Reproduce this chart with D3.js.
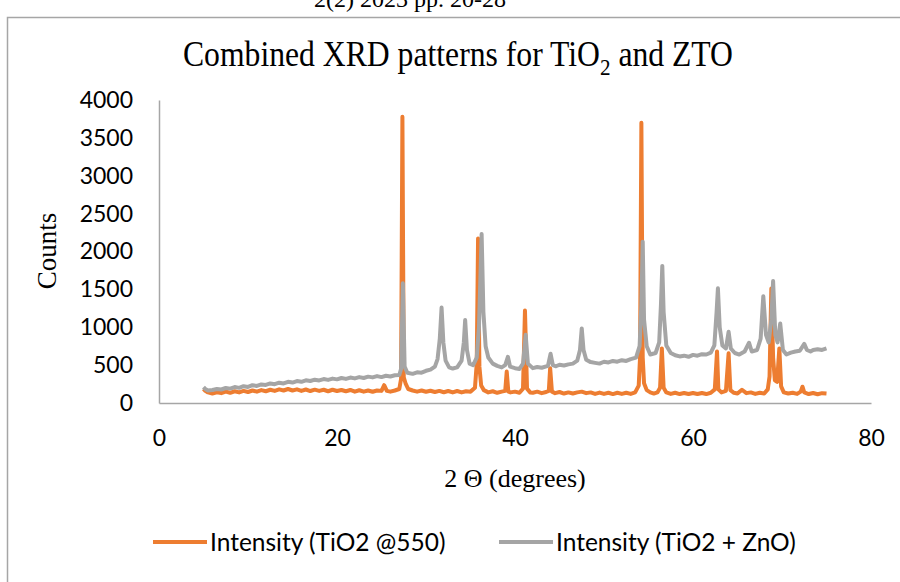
<!DOCTYPE html>
<html lang="en">

<head>
    <meta charset="UTF-8">
    <title>Combined XRD patterns</title>
    <script src="https://cdnjs.cloudflare.com/ajax/libs/d3/7.8.5/d3.min.js"></script>
    <style>
        body { margin: 0; background: #fff; }
        svg { display: block; }
    </style>
</head>

<body>
    <script>
        const seriesNames = ['Intensity (TiO2 @550)', 'Intensity (TiO2 + ZnO)'];
        const seriesColors = ['#ED7D31', '#A5A5A5'];
        const xTicks = [0, 20, 40, 60, 80];
        const yTicks = [0, 500, 1000, 1500, 2000, 2500, 3000, 3500, 4000];

        // [2 theta, counts]
        const tio2Data = [
            [5.0, 185], [5.2, 160], [5.5, 140], [6.0, 125], [6.5, 140], [7.0, 130], [7.5, 150], [8.0, 135],
            [8.5, 155], [9.0, 140], [9.5, 160], [10.0, 145], [10.5, 165], [11.0, 150], [11.5, 170], [12.0, 155],
            [12.5, 175], [13.0, 160], [13.5, 180], [14.0, 165], [14.5, 185], [15.0, 165], [15.5, 180], [16.0, 160],
            [16.5, 178], [17.0, 158], [17.5, 176], [18.0, 160], [18.5, 175], [19.0, 155], [19.5, 175], [20.0, 158],
            [20.5, 172], [21.0, 155], [21.5, 172], [22.0, 150], [22.5, 168], [23.0, 150], [23.5, 165], [24.0, 148],
            [24.5, 165], [25.0, 160], [25.3, 235], [25.6, 160], [26.0, 150], [26.5, 165], [27.0, 185], [27.2, 320],
            [27.35, 3780], [27.5, 340], [27.7, 260], [28.0, 185], [28.5, 165], [29.0, 150], [29.5, 165], [30.0, 148],
            [30.5, 162], [31.0, 145], [31.5, 160], [32.0, 142], [32.5, 158], [33.0, 140], [33.5, 158], [34.0, 140],
            [34.5, 155], [35.0, 150], [35.5, 200], [35.7, 520], [35.85, 2170], [36.0, 480], [36.2, 230], [36.5, 170],
            [37.0, 140], [37.5, 155], [38.0, 135], [38.5, 150], [38.9, 160], [39.07, 415], [39.25, 150], [39.5, 140],
            [40.0, 150], [40.5, 135], [40.9, 190], [41.12, 1220], [41.35, 190], [41.7, 140], [42.0, 135], [42.5, 150],
            [43.0, 130], [43.5, 145], [43.8, 160], [43.95, 460], [44.15, 150], [44.5, 130], [45.0, 145], [45.5, 125],
            [46.0, 140], [46.5, 125], [47.0, 140], [47.5, 150], [48.0, 130], [48.5, 140], [49.0, 120], [49.5, 138],
            [50.0, 120], [50.5, 135], [51.0, 118], [51.5, 135], [52.0, 120], [52.5, 135], [53.0, 120], [53.5, 140],
            [53.9, 230], [54.05, 600], [54.2, 3700], [54.35, 600], [54.5, 260], [54.8, 170], [55.2, 140], [55.6, 125],
            [56.0, 140], [56.3, 200], [56.5, 720], [56.7, 200], [57.0, 140], [57.5, 120], [58.0, 135], [58.5, 118],
            [59.0, 132], [59.5, 118], [60.0, 132], [60.5, 118], [61.0, 132], [61.5, 118], [62.0, 135], [62.45, 180],
            [62.7, 680], [62.85, 180], [63.2, 140], [63.7, 160], [64.0, 656], [64.2, 170], [64.6, 135], [65.0, 125],
            [65.5, 175], [66.0, 130], [66.5, 140], [67.0, 120], [67.5, 135], [68.0, 125], [68.4, 180], [68.6, 350],
            [68.8, 1510], [69.0, 600], [69.2, 300], [69.45, 280], [69.7, 720], [69.9, 220], [70.2, 140], [70.7, 125],
            [71.2, 135], [71.7, 120], [72.1, 150], [72.3, 215], [72.5, 140], [73.0, 118], [73.5, 132], [74.0, 115],
            [74.5, 130], [75.0, 125]
        ];

        const ztoData = [
            [5.0, 210], [5.2, 185], [5.5, 165], [6.0, 172], [6.5, 185], [7.0, 178], [7.5, 198], [8.0, 190],
            [8.5, 210], [9.0, 200], [9.5, 222], [10.0, 212], [10.5, 235], [11.0, 225], [11.5, 245], [12.0, 238],
            [12.5, 258], [13.0, 248], [13.5, 268], [14.0, 258], [14.5, 280], [15.0, 270], [15.5, 290], [16.0, 280],
            [16.5, 300], [17.0, 290], [17.5, 308], [18.0, 298], [18.5, 316], [19.0, 305], [19.5, 322], [20.0, 312],
            [20.5, 330], [21.0, 318], [21.5, 336], [22.0, 325], [22.5, 342], [23.0, 330], [23.5, 348], [24.0, 338],
            [24.5, 355], [25.0, 342], [25.5, 360], [26.0, 350], [26.5, 366], [27.0, 370], [27.2, 450], [27.4, 1580],
            [27.6, 480], [27.9, 400], [28.5, 385], [29.0, 405], [29.5, 400], [30.0, 425], [30.5, 440], [31.0, 480],
            [31.3, 580], [31.55, 850], [31.75, 1260], [31.95, 800], [32.2, 560], [32.6, 470], [33.0, 455], [33.5, 470],
            [34.0, 560], [34.25, 800], [34.4, 1095], [34.6, 700], [34.9, 520], [35.3, 500], [35.7, 600], [35.95, 1000],
            [36.1, 1600], [36.25, 2230], [36.45, 1200], [36.7, 750], [37.0, 600], [37.5, 520], [38.0, 490], [38.5, 470],
            [38.9, 500], [39.2, 610], [39.45, 480], [40.0, 460], [40.5, 450], [40.9, 520], [41.2, 900], [41.45, 520],
            [42.0, 460], [42.5, 475], [43.0, 465], [43.7, 490], [44.0, 650], [44.25, 500], [44.6, 485], [45.0, 505],
            [45.5, 495], [46.0, 510], [46.5, 520], [47.0, 560], [47.3, 700], [47.5, 985], [47.7, 700], [48.0, 570],
            [48.5, 540], [49.0, 530], [49.5, 520], [50.0, 545], [50.5, 535], [51.0, 555], [51.5, 545], [52.0, 565],
            [52.5, 555], [53.0, 580], [53.6, 600], [54.0, 750], [54.2, 1300], [54.35, 2130], [54.5, 1100], [54.8, 750],
            [55.2, 640], [55.8, 660], [56.2, 800], [56.4, 1300], [56.55, 1810], [56.7, 1200], [57.0, 760], [57.5, 660],
            [58.0, 630], [58.5, 615], [59.0, 625], [59.5, 610], [60.0, 635], [60.5, 625], [61.0, 645], [61.5, 640],
            [62.0, 665], [62.4, 760], [62.65, 1200], [62.8, 1515], [63.0, 1000], [63.3, 760], [63.7, 720], [64.0, 940],
            [64.25, 720], [64.7, 660], [65.2, 640], [65.8, 680], [66.3, 795], [66.6, 680], [67.2, 700], [67.6, 850],
            [67.9, 1410], [68.2, 900], [68.5, 800], [68.8, 1100], [69.0, 1610], [69.25, 900], [69.5, 800], [69.8, 1050],
            [70.1, 700], [70.5, 640], [71.0, 665], [71.5, 680], [72.0, 690], [72.5, 780], [72.8, 700], [73.2, 680],
            [73.5, 700], [74.0, 710], [74.5, 700], [75.0, 720]
        ];

        const w = 900;
        const h = 582;

        const xScale = d3.scaleLinear()
            .domain([0, 80])
            .range([159, 871]);

        const yScale = d3.scaleLinear()
            .domain([0, 4000])
            .range([403, 100]);

        const svg = d3.select('body')
            .append('svg')
            .attr('width', w)
            .attr('height', h);

        // journal header, cut off at the top edge in the original
        svg.append('text')
            .attr('x', 410)
            .attr('y', 7)
            .attr('text-anchor', 'middle')
            .style('font-family', '"Liberation Serif", serif')
            .style('font-size', '24px')
            .text('2(2) 2023 pp. 20-28');

        // chart frame
        svg.append('path')
            .attr('d', `M7.5,${h} V17.5 H${w}`)
            .attr('fill', 'none')
            .attr('stroke', '#a6a6a6')
            .attr('stroke-width', 1.5);

        const title = svg.append('text')
            .attr('transform', 'translate(458, 66) scale(0.88, 1)')
            .attr('text-anchor', 'middle')
            .style('font-family', '"Liberation Serif", serif')
            .style('font-size', '36px');
        title.append('tspan').text('Combined XRD patterns for TiO');
        title.append('tspan').attr('dy', 9).style('font-size', '24px').text('2');
        title.append('tspan').attr('dy', -9).text(' and ZTO');

        // axes
        const xAxis = d3.axisBottom(xScale).tickValues(xTicks).tickSize(0).tickPadding(27);
        const yAxis = d3.axisLeft(yScale).tickValues(yTicks).tickSize(0).tickPadding(26)
            .tickFormat(d3.format('d'));

        const gx = svg.append('g')
            .attr('id', 'x-axis')
            .attr('transform', `translate(0, ${yScale(0)})`)
            .call(xAxis);

        const gy = svg.append('g')
            .attr('id', 'y-axis')
            .attr('transform', `translate(${xScale(0)}, 0)`)
            .call(yAxis);

        [gx, gy].forEach(g => {
            g.select('.domain').attr('stroke', '#a6a6a6').attr('stroke-width', 1.5);
            g.selectAll('text')
                .attr('fill', '#000')
                .style('font-family', 'Lato, sans-serif')
                .style('font-size', '23px');
        });

        svg.append('text')
            .attr('transform', `translate(56, 251) rotate(-90)`)
            .attr('text-anchor', 'middle')
            .style('font-family', '"Liberation Serif", serif')
            .style('font-size', '27px')
            .text('Counts');

        svg.append('text')
            .attr('x', 515)
            .attr('y', 487)
            .attr('text-anchor', 'middle')
            .style('font-family', '"Liberation Serif", serif')
            .style('font-size', '26px')
            .text('2 \u0398 (degrees)');

        // series
        const line = d3.line()
            .x(d => xScale(d[0]))
            .y(d => yScale(d[1]));

        [tio2Data, ztoData].forEach((data, i) => {
            svg.append('path')
                .datum(data)
                .attr('fill', 'none')
                .attr('stroke', seriesColors[i])
                .attr('stroke-width', 4)
                .attr('stroke-linejoin', 'round')
                .attr('d', line);
        });

        // legend
        const legendX = [153, 499];
        const legend = svg.selectAll('.legend')
            .data(seriesNames)
            .enter()
            .append('g')
            .attr('class', 'legend')
            .attr('transform', (d, i) => `translate(${legendX[i]}, 542)`);

        legend.append('line')
            .attr('x1', 0)
            .attr('x2', 54)
            .attr('stroke', (d, i) => seriesColors[i])
            .attr('stroke-width', 4);

        legend.append('text')
            .attr('x', 57)
            .attr('dy', '0.35em')
            .style('font-family', 'Lato, sans-serif')
            .style('font-size', '24.5px')
            .text(d => d);
    </script>
</body>

</html>
